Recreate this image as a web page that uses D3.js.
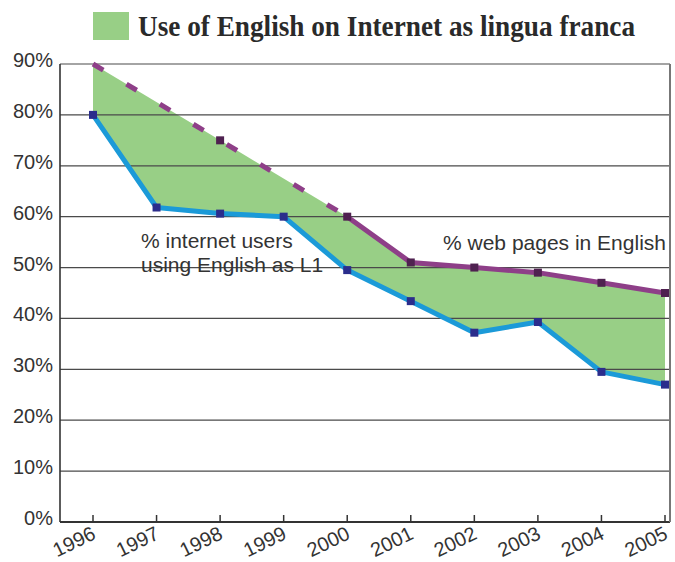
<!DOCTYPE html>
<html>
<head>
<meta charset="utf-8">
<script src="https://cdn.jsdelivr.net/npm/d3@7"></script>
<style>
  body { margin: 0; background: #fff; }
  svg { display: block; }
</style>
</head>
<body>
<svg id="chart" width="675" height="562"></svg>
<script>
var years = [1996, 1997, 1998, 1999, 2000, 2001, 2002, 2003, 2004, 2005];
// % internet users using English as L1
var usersPct = [80, 61.8, 60.6, 60, 49.5, 43.4, 37.2, 39.3, 29.5, 27];
// % web pages in English (1996-2000 estimated, drawn dashed)
var webYears = [1996, 1998, 2000, 2001, 2002, 2003, 2004, 2005];
var webPct = [90, 75, 60, 51, 50, 49, 47, 45];
var yTicks = [0, 10, 20, 30, 40, 50, 60, 70, 80, 90];

var svg = d3.select("#chart");

var x = d3.scalePoint()
    .domain(years)
    .range([93, 665]);

var y = d3.scaleLinear()
    .domain([0, 90])
    .range([522, 64]);

var left = 60, right = 670;

// green band between the two series
var users = years.map(function (d, i) { return [d, usersPct[i]]; });
var web = webYears.map(function (d, i) { return [d, webPct[i]]; });
var band = web.concat(users.slice().reverse());

var line = d3.line()
    .x(function (d) { return x(d[0]); })
    .y(function (d) { return y(d[1]); });

svg.append("path")
    .attr("d", line(band) + "Z")
    .attr("fill", "#98cf86");

// grid lines
svg.append("g")
    .selectAll("line")
    .data(yTicks)
    .enter().append("line")
    .attr("x1", left)
    .attr("x2", right)
    .attr("y1", function (d) { return y(d); })
    .attr("y2", function (d) { return y(d); })
    .attr("stroke", function (d) { return d == 0 ? "#333" : "#4a4a4a"; })
    .attr("stroke-width", function (d) { return d == 0 ? 1.8 : 1.2; });

// left and right border
svg.append("line")
    .attr("x1", left).attr("x2", left)
    .attr("y1", y(90)).attr("y2", y(0))
    .attr("stroke", "#333").attr("stroke-width", 1.6);
svg.append("line")
    .attr("x1", right).attr("x2", right)
    .attr("y1", y(90)).attr("y2", y(0))
    .attr("stroke", "#777").attr("stroke-width", 2);

// y labels
svg.append("g")
    .selectAll("text")
    .data(yTicks)
    .enter().append("text")
    .attr("x", 53)
    .attr("y", function (d) { return y(d) + 3; })
    .attr("text-anchor", "end")
    .style("font-family", "Liberation Sans, Arial, sans-serif")
    .style("font-size", "20px")
    .attr("fill", "#333")
    .text(function (d) { return d + "%"; });

// x ticks and labels
var xg = svg.append("g");
xg.selectAll("line")
    .data(years)
    .enter().append("line")
    .attr("x1", function (d) { return x(d); })
    .attr("x2", function (d) { return x(d); })
    .attr("y1", y(0))
    .attr("y2", y(0) - 7)
    .attr("stroke", "#333")
    .attr("stroke-width", 1.5);
xg.selectAll("text")
    .data(years)
    .enter().append("text")
    .attr("text-anchor", "end")
    .attr("transform", function (d) {
        return "translate(" + (x(d) + 4) + "," + (y(0) + 16) + ") rotate(-26)";
    })
    .style("font-family", "Liberation Sans, Arial, sans-serif")
    .style("font-size", "20px")
    .attr("fill", "#333")
    .text(function (d) { return d; });

// web pages line: dashed until 2000, solid after
svg.append("path")
    .attr("d", line(web.slice(0, 3)))
    .attr("fill", "none")
    .attr("stroke", "#8e3f88")
    .attr("stroke-width", 5)
    .attr("stroke-dasharray", "12,27");
svg.append("path")
    .attr("d", line(web.slice(2)))
    .attr("fill", "none")
    .attr("stroke", "#8e3f88")
    .attr("stroke-width", 5);

// users line
svg.append("path")
    .attr("d", line(users))
    .attr("fill", "none")
    .attr("stroke", "#1b9ad8")
    .attr("stroke-width", 5)
    .attr("stroke-linejoin", "round");

// markers
var ms = 8;
svg.append("g")
    .selectAll("rect")
    .data(web.slice(1))
    .enter().append("rect")
    .attr("x", function (d) { return x(d[0]) - ms / 2; })
    .attr("y", function (d) { return y(d[1]) - ms / 2; })
    .attr("width", ms).attr("height", ms)
    .attr("fill", "#4f2150");
svg.append("g")
    .selectAll("rect")
    .data(users)
    .enter().append("rect")
    .attr("x", function (d) { return x(d[0]) - ms / 2; })
    .attr("y", function (d) { return y(d[1]) - ms / 2; })
    .attr("width", ms).attr("height", ms)
    .attr("fill", "#2b2d8c");

// annotations
var note = svg.append("g")
    .style("font-family", "Liberation Sans, Arial, sans-serif")
    .style("font-size", "21px")
    .attr("fill", "#333");
note.append("text").attr("x", 141).attr("y", 248).text("% internet users");
note.append("text").attr("x", 141).attr("y", 272).text("using English as L1");
note.append("text").attr("x", 666).attr("y", 250)
    .attr("text-anchor", "end").text("% web pages in English");

// title with legend swatch
svg.append("rect")
    .attr("x", 93).attr("y", 12)
    .attr("width", 36).attr("height", 28)
    .attr("fill", "#98cf86");
svg.append("text")
    .attr("x", 138).attr("y", 36)
    .attr("textLength", 497)
    .attr("lengthAdjust", "spacingAndGlyphs")
    .style("font-family", "Liberation Serif, Times New Roman, serif")
    .style("font-size", "29px")
    .style("font-weight", "bold")
    .attr("fill", "#2a2a2a")
    .text("Use of English on Internet as lingua franca");
</script>
</body>
</html>
